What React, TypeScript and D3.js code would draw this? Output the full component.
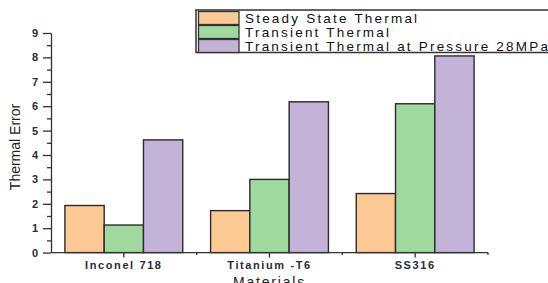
import React, { useEffect, useRef } from 'react';
import * as d3 from 'd3';

const materials = ['Inconel 718', 'Titanium -T6', 'SS316'];
const seriesNames = [
  'Steady State Thermal',
  'Transient Thermal',
  'Transient Thermal at Pressure 28MPa',
];
const steadyState = [1.93, 1.72, 2.42];
const transient = [1.13, 3.0, 6.1];
const transientPressure = [4.62, 6.18, 8.06];
const seriesColors = ['#fcc995', '#a0d99e', '#c3b3d8'];
const yTicks = [0, 1, 2, 3, 4, 5, 6, 7, 8, 9];

const App = () => {
  const svgRef = useRef<SVGSVGElement>(null);

  useEffect(() => {
    const width = 548;
    const height = 283;
    const svg = d3.select(svgRef.current);
    svg.selectAll('*').remove();

    const left = 51;
    const right = 488;
    const top = 33;
    const bottom = 252.6;

    const values = [steadyState, transient, transientPressure];
    const rows = materials.map((m, i) => ({
      material: m,
      vals: values.map((s) => s[i]),
    }));

    const x = d3.scaleBand().domain(materials).range([left, right]).padding(0);
    const xInner = d3
      .scaleBand()
      .domain(seriesNames)
      .range([0, x.bandwidth()])
      .paddingInner(0)
      .paddingOuter(0.354);
    const y = d3.scaleLinear().domain([0, 9]).range([bottom, top]);

    svg.attr('width', width).attr('height', height);

    // bars
    const groups = svg
      .append('g')
      .selectAll('g')
      .data(rows)
      .enter()
      .append('g')
      .attr('transform', (d) => `translate(${x(d.material)},0)`);

    groups
      .selectAll('rect')
      .data((d) => d.vals.map((v, i) => ({ v, name: seriesNames[i], i })))
      .enter()
      .append('rect')
      .attr('x', (d) => xInner(d.name)!)
      .attr('width', xInner.bandwidth())
      .attr('y', (d) => y(d.v))
      .attr('height', (d) => y(0) - y(d.v))
      .attr('fill', (d) => seriesColors[d.i])
      .attr('stroke', '#2b2b2b')
      .attr('stroke-width', 1.4);

    // y axis, minor ticks first
    const yMinor = svg
      .append('g')
      .attr('transform', `translate(${left},0)`)
      .call(
        d3
          .axisLeft(y)
          .tickValues(d3.range(0.5, 9, 1))
          .tickSize(4)
          .tickFormat(() => '')
      );
    yMinor.select('.domain').remove();
    svg
      .append('g')
      .attr('transform', `translate(${left},0)`)
      .call(d3.axisLeft(y).tickValues(yTicks).tickSize(8).tickPadding(5).tickSizeOuter(0))
      .call((g) =>
        g
          .selectAll('text')
          .style('font-family', 'Liberation Sans, Arial, sans-serif')
          .style('font-size', '11px')
          .style('font-weight', '600')
          .attr('fill', '#2a2a3a')
      );

    svg.selectAll('.tick line, .domain').attr('stroke', '#333').attr('stroke-width', 1.3);

    // x axis
    const xAxis = svg.append('g').attr('transform', `translate(0,${bottom})`);
    xAxis
      .append('line')
      .attr('x1', left)
      .attr('x2', right)
      .attr('stroke', '#333')
      .attr('stroke-width', 1.3);
    xAxis
      .selectAll('line.major')
      .data(materials)
      .enter()
      .append('line')
      .attr('class', 'major')
      .attr('x1', (d) => x(d)! + x.bandwidth() / 2)
      .attr('x2', (d) => x(d)! + x.bandwidth() / 2)
      .attr('y1', 0)
      .attr('y2', 5)
      .attr('stroke', '#333')
      .attr('stroke-width', 1.3);
    xAxis
      .selectAll('line.minor')
      .data(materials.slice(1).concat(['end']))
      .enter()
      .append('line')
      .attr('class', 'minor')
      .attr('x1', (d) => (d === 'end' ? right : x(d)!))
      .attr('x2', (d) => (d === 'end' ? right : x(d)!))
      .attr('y1', 0)
      .attr('y2', 2.5)
      .attr('stroke', '#333')
      .attr('stroke-width', 1.3);
    xAxis
      .selectAll('text')
      .data(materials)
      .enter()
      .append('text')
      .attr('x', (d) => x(d)! + x.bandwidth() / 2)
      .attr('y', 16)
      .attr('text-anchor', 'middle')
      .style('font-family', 'Liberation Sans, Arial, sans-serif')
      .style('font-size', '11px')
      .style('font-weight', '600')
      .style('letter-spacing', '1.6px')
      .attr('fill', '#2a2a3a')
      .text((d) => d);

    // axis titles
    svg
      .append('text')
      .attr('x', (left + right) / 2)
      .attr('y', 287)
      .attr('text-anchor', 'middle')
      .style('font-family', 'Liberation Sans, Arial, sans-serif')
      .style('font-size', '14px')
      .style('letter-spacing', '1.8px')
      .attr('fill', '#222')
      .text('Materials');

    svg
      .append('text')
      .attr('transform', 'rotate(-90)')
      .attr('x', -147)
      .attr('y', 20)
      .attr('text-anchor', 'middle')
      .style('font-family', 'Liberation Sans Narrow, Liberation Sans, Arial, sans-serif')
      .style('font-size', '14px')
      .attr('fill', '#222')
      .text('Thermal Error');

    // legend
    const legend = svg.append('g');
    legend
      .append('rect')
      .attr('x', 196)
      .attr('y', 10)
      .attr('width', 400)
      .attr('height', 42.5)
      .attr('fill', 'white')
      .attr('stroke', '#333')
      .attr('stroke-width', 1.5);
    const items = legend
      .selectAll('g')
      .data(seriesNames)
      .enter()
      .append('g')
      .attr('transform', (_, i) => `translate(0,${11 + i * 14})`);
    items
      .append('rect')
      .attr('x', 198.5)
      .attr('y', 0.5)
      .attr('width', 40.5)
      .attr('height', 13)
      .attr('fill', (_, i) => seriesColors[i])
      .attr('stroke', '#333')
      .attr('stroke-width', 1.3);
    items
      .append('text')
      .attr('x', 245)
      .attr('y', 11.5)
      .style('font-family', 'Liberation Sans, Arial, sans-serif')
      .style('font-size', '13.5px')
      .style('letter-spacing', '2.2px')
      .attr('fill', '#111')
      .text((d) => d);
  }, []);

  return (
    <svg
      ref={svgRef}
      style={{ position: 'absolute', left: 0, top: 0, display: 'block', background: 'white' }}
    />
  );
};

export default App;
